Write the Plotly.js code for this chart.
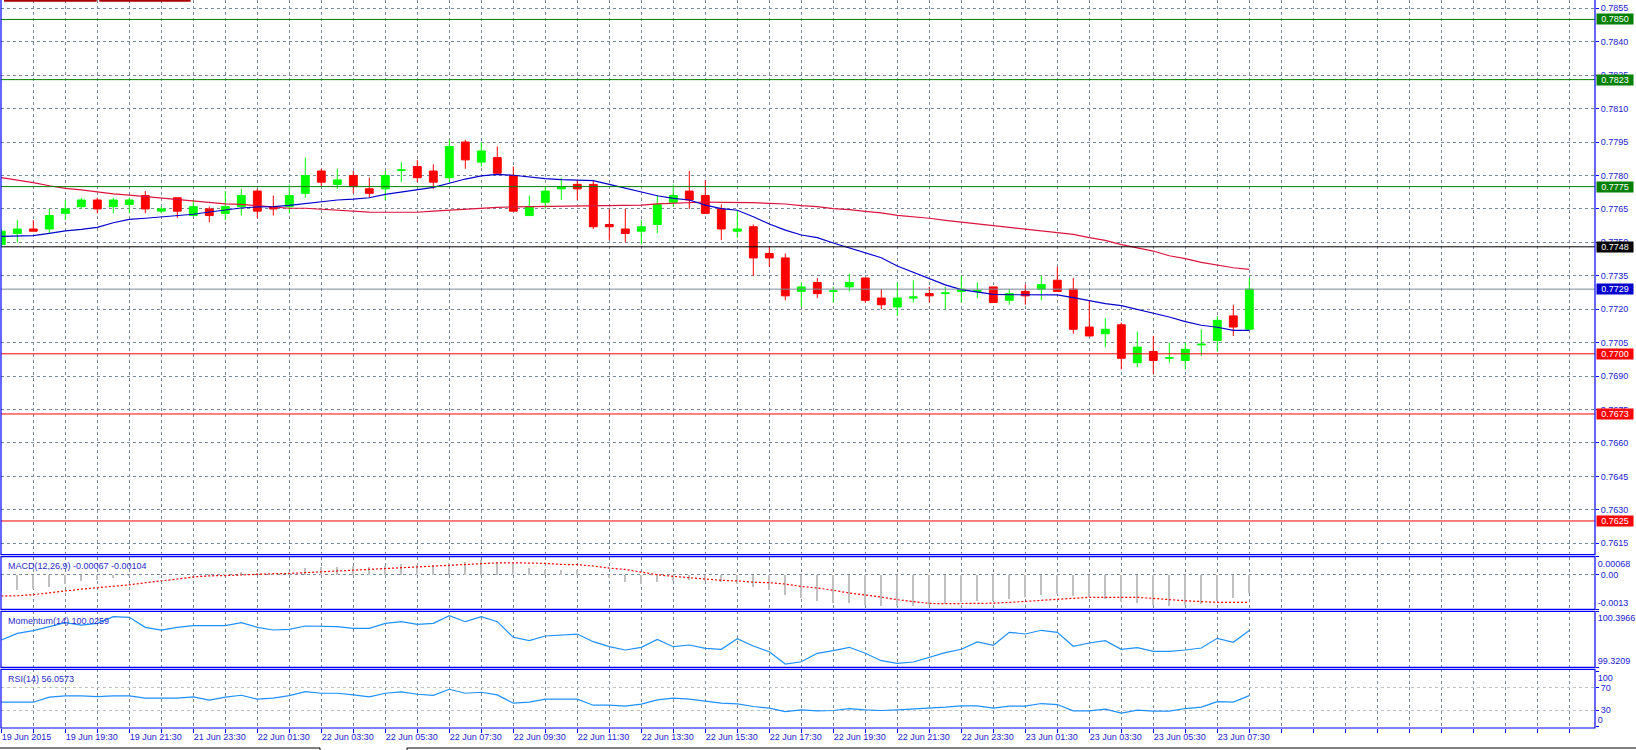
<!DOCTYPE html>
<html>
<head>
<meta charset="utf-8">
<script src="https://cdn.plot.ly/plotly-3.0.1.min.js"></script>
<style>
html,body{margin:0;padding:0;background:#ffffff;}
#chart{width:1636px;height:750px;}
</style>
</head>
<body>
<div id="chart"></div>
<script>
// ---------- DATA (M30 bars) ----------
const openP = [0.7749,0.7754,0.7756,0.7756,0.7763,0.7766,0.7769,0.7766,0.7767,0.7771,
0.7764,0.7770,0.7762,0.7765,0.7763,0.7766,0.7773,0.7766,0.7766,0.7772,
0.7782,0.7776,0.7780,0.7774,0.7774,0.77822,0.7784,0.7782,0.7779,0.7795,
0.7786,0.7788,0.7780,0.7762,0.7768,0.7774,0.7776,0.7776,0.7758,0.7756,
0.7755,0.7758,0.7768,0.7773,0.7771,0.7765,0.7755,0.7757,0.7745,0.7743,
0.7728,0.7732,0.7728,0.7730,0.7734,0.7725,0.7721,0.7725,0.7727,0.7727,
0.7728,0.7728,0.7730,0.7724,0.7728,0.7729,0.7733,0.7729,0.7712,0.7709,
0.7713,0.7696,0.7701,0.7698,0.7697,0.7704,0.7706,0.7717,0.7711];
const highP = [0.7756,0.7760,0.7760,0.7765,0.7769,0.7770,0.7770,0.7770,0.7770,0.7773,
0.7766,0.7770,0.7769,0.7766,0.7773,0.7774,0.7774,0.7771,0.7776,0.7788,
0.7783,0.7783,0.7782,0.7779,0.7782,0.7786,0.7787,0.7785,0.7796,0.7796,
0.7795,0.7793,0.7784,0.7771,0.7775,0.7779,0.7778,0.7778,0.7765,0.7765,
0.7760,0.7771,0.7776,0.7782,0.7778,0.7767,0.7764,0.7758,0.7748,0.7745,
0.7732,0.7734,0.7730,0.7736,0.7734,0.7729,0.7732,0.7733,0.7730,0.7730,
0.7735,0.7732,0.7730,0.7729,0.7731,0.7735,0.7739,0.7734,0.7724,0.7716,
0.7714,0.7710,0.7708,0.7705,0.7705,0.7711,0.7717,0.7722,0.7734];
const lowP = [0.7748,0.7750,0.7755,0.7754,0.7760,0.7765,0.7763,0.7763,0.7763,0.7763,
0.7763,0.7761,0.7762,0.7759,0.7760,0.7762,0.7761,0.7762,0.7763,0.7770,
0.7775,0.7774,0.7772,0.7770,0.7769,0.7777,0.7777,0.7774,0.7777,0.7783,
0.7784,0.7781,0.7764,0.7762,0.7765,0.7769,0.7769,0.7756,0.7751,0.7750,
0.7749,0.7754,0.7766,0.7765,0.7763,0.7751,0.7752,0.7735,0.7739,0.7724,
0.7721,0.7725,0.7723,0.7728,0.7723,0.7720,0.7717,0.7723,0.7723,0.7720,
0.7723,0.7725,0.7723,0.7722,0.7722,0.7724,0.7728,0.7709,0.7708,0.7703,
0.7693,0.7694,0.7691,0.7696,0.7693,0.7699,0.7701,0.7708,0.7711];
const closeP = [0.7755,0.7756,0.7755,0.7762,0.7765,0.7769,0.7765,0.7769,0.7769,0.7765,
0.7765,0.7764,0.7766,0.7762,0.7766,0.7771,0.7764,0.7765,0.7771,0.7780,
0.7777,0.7778,0.7775,0.7772,0.7780,0.77825,0.7779,0.7777,0.7793,0.7787,
0.7791,0.7781,0.7764,0.7766,0.7773,0.7775,0.7774,0.7757,0.7757,0.7754,
0.7757,0.7767,0.7771,0.7769,0.7763,0.7756,0.7756,0.7743,0.7743,0.7726,
0.7730,0.7727,0.77282,0.7732,0.7724,0.7722,0.7725,0.77255,0.7726,0.77273,
0.7729,0.77283,0.7723,0.7727,0.7726,0.7731,0.7728,0.7711,0.7708,0.7711,
0.7698,0.7703,0.7697,0.76983,0.7702,0.77043,0.7715,0.7712,0.7729];
const maFast = [0.77527,0.77527,0.77530,0.77540,0.77551,0.77558,0.77567,0.77588,0.77603,0.77608,
0.77614,0.77618,0.77626,0.77636,0.77645,0.77654,0.77659,0.77660,0.77666,0.77675,
0.77684,0.77690,0.77694,0.77700,0.77715,0.77725,0.77735,0.77747,0.77765,0.77784,
0.77798,0.77805,0.77801,0.77792,0.77786,0.77781,0.77780,0.77777,0.77760,0.77742,
0.77727,0.77709,0.77697,0.77690,0.77667,0.77651,0.77644,0.77615,0.77582,0.77555,
0.77533,0.77521,0.77497,0.77476,0.77455,0.77431,0.77394,0.77365,0.77337,0.77309,
0.77288,0.77277,0.77267,0.77265,0.77265,0.77265,0.77264,0.77252,0.77237,0.77225,
0.77216,0.77200,0.77183,0.77165,0.77144,0.77128,0.77119,0.77105,0.77105];
const maSlow = [0.77790,0.77780,0.77768,0.77754,0.77742,0.77735,0.77726,0.77717,0.77712,0.77705,
0.77699,0.77694,0.77687,0.77679,0.77673,0.77670,0.77664,0.77657,0.77653,0.77653,
0.77648,0.77644,0.77638,0.77636,0.77635,0.77635,0.77635,0.77640,0.77645,0.77650,
0.77653,0.77657,0.77659,0.77660,0.77660,0.77663,0.77664,0.77664,0.77666,0.77666,
0.77667,0.77673,0.77676,0.77681,0.77681,0.77679,0.77679,0.77678,0.77675,0.77672,
0.77665,0.77660,0.77651,0.77647,0.77639,0.77632,0.77621,0.77615,0.77608,0.77599,
0.77590,0.77584,0.77575,0.77567,0.77560,0.77552,0.77545,0.77536,0.77521,0.77509,
0.77490,0.77476,0.77461,0.77440,0.77427,0.77410,0.77398,0.77386,0.77379];
const macdHist = [-0.00060,-0.00056,-0.00054,-0.00046,-0.00035,-0.00024,-0.00019,-0.00013,-0.00004,-0.00001,
0.00000,0.00001,0.00004,0.00003,0.00004,0.00009,0.00006,0.00004,0.00006,0.00024,
0.00029,0.00031,0.00034,0.00031,0.00034,0.00039,0.00038,0.00038,0.00046,0.00050,
0.00057,0.00050,0.00040,0.00024,0.00019,0.00019,0.00018,0.00001,-0.00013,-0.00028,
-0.00033,-0.00028,-0.00023,-0.00020,-0.00023,-0.00026,-0.00033,-0.00046,-0.00058,-0.00076,
-0.00088,-0.00099,-0.00108,-0.00108,-0.00115,-0.00119,-0.00119,-0.00119,-0.00114,-0.00110,
-0.00104,-0.00100,-0.00098,-0.00091,-0.00084,-0.00076,-0.00074,-0.00080,-0.00084,-0.00091,
-0.00103,-0.00107,-0.00114,-0.00118,-0.00114,-0.00110,-0.00099,-0.00088,-0.00067];
const macdSignal = [-0.00080,-0.00079,-0.00075,-0.00069,-0.00061,-0.00054,-0.00049,-0.00043,-0.00038,-0.00030,
-0.00024,-0.00016,-0.00008,-0.00004,-0.00003,0.00000,0.00003,0.00004,0.00005,0.00008,
0.00011,0.00014,0.00018,0.00021,0.00025,0.00028,0.00030,0.00033,0.00036,0.00039,
0.00043,0.00045,0.00045,0.00045,0.00043,0.00039,0.00038,0.00033,0.00025,0.00020,
0.00009,0.00000,-0.00006,-0.00010,-0.00016,-0.00021,-0.00023,-0.00028,-0.00030,-0.00035,
-0.00044,-0.00050,-0.00058,-0.00069,-0.00076,-0.00084,-0.00094,-0.00100,-0.00108,-0.00109,
-0.00109,-0.00109,-0.00107,-0.00104,-0.00100,-0.00098,-0.00094,-0.00089,-0.00085,-0.00085,
-0.00085,-0.00085,-0.00089,-0.00094,-0.00098,-0.00101,-0.00104,-0.00104,-0.00104];
const momentum = [99.845,99.973,100.025,100.101,100.178,100.133,100.165,100.293,100.281,100.089,
100.037,100.089,100.121,100.121,100.121,100.178,100.089,100.037,100.050,100.114,
100.114,100.101,100.069,100.069,100.165,100.197,100.146,100.165,100.313,100.197,
100.293,100.197,99.897,99.832,99.922,99.941,99.960,99.813,99.717,99.653,
99.704,99.858,99.717,99.749,99.686,99.667,99.870,99.730,99.621,99.384,
99.428,99.590,99.640,99.705,99.590,99.448,99.398,99.423,99.513,99.602,
99.667,99.807,99.744,99.993,99.961,100.032,99.993,99.724,99.788,99.832,
99.667,99.698,99.628,99.628,99.653,99.692,99.878,99.801,100.026];
const rsi = [44.3,44.3,44.3,53.3,55.7,55.7,54.5,55.7,55.7,51.5,
51.5,51.5,53.9,47.9,53.3,56.8,49.7,51.5,56.2,63.4,
60.4,60.4,57.4,53.9,60.4,62.8,58.6,56.8,67.6,60.4,
62.2,57.4,42.5,44.3,49.7,49.7,49.7,38.9,38.9,37.1,
40.7,48.5,51.5,49.7,45.5,42.5,41.3,36.5,33.5,27.5,
30.5,28.7,29.3,32.9,30.5,29.3,30.5,31.7,33.5,35.3,
37.7,37.7,33.5,37.1,37.1,41.9,40.1,28.7,28.7,31.7,
24.6,30.0,28.2,28.2,32.9,35.4,45.4,44.4,56.06];
const timeLabels = ['19 Jun 2015','19 Jun 19:30','19 Jun 21:30','21 Jun 23:30','22 Jun 01:30',
'22 Jun 03:30','22 Jun 05:30','22 Jun 07:30','22 Jun 09:30','22 Jun 11:30','22 Jun 13:30',
'22 Jun 15:30','22 Jun 17:30','22 Jun 19:30','22 Jun 21:30','22 Jun 23:30','23 Jun 01:30',
'23 Jun 03:30','23 Jun 05:30','23 Jun 07:30'];
const levelPrices = [0.7850, 0.7823, 0.7775, 0.7748, 0.7729, 0.7700, 0.7673, 0.7625];
const macdTitle = 'MACD(12,26,9) -0.00067 -0.00104';
const momTitle = 'Momentum(14) 100.0259';
const rsiTitle = 'RSI(14) 56.0573';
const macdScale = [-0.0013, 0.00068];
const momScale = [99.3209, 100.3966];
const rsiScale = [0, 100];
const rsiLevels = [30, 70];

// ---------- STYLE / LAYOUT ----------
const levelColors = ['#008000','#008000','#008000','#000000','#778899','#ff0000','#ff0000','#ff0000'];
const levelBoxColors = ['#008000','#008000','#008000','#000000','#0000cc','#ff0000','#ff0000','#ff0000'];
const BLUE = '#0000ff';
const TXT = '#2222d2';
const FONT = 'Liberation Sans, Arial, sans-serif';
const GRID = '#778899';
const H = 728, W = 1594; // plot area in px
const dom = (top, bot) => [(H - bot) / H, (H - top) / H];
const dMain = [dom(0, 554.7)[0], 1];
const dMacd = dom(556.7, 609.3);
const dMom = dom(611.3, 667.3);
const dRsi = [0, dom(669.3, 728)[1]];

const idx = closeP.map((_, i) => i);
const barsPerLabel = 4;
const tickvals = [], ticktext = [];
for (let v = 0; v <= 98; v += 2) {
  tickvals.push(v);
  const k = v / barsPerLabel;
  ticktext.push(v % barsPerLabel === 0 && k < timeLabels.length ? timeLabels[k] : '');
}
const priceTicks = [];
for (let k = 0; k <= 16; k++) priceTicks.push(+(0.7615 + 0.0015 * k).toFixed(4));

const macdRange = [macdScale[0] - 0.000001, macdScale[1] + 0.000001];
const momRange = [momScale[0] - 0.0001, momScale[1] + 0.0001];
const rsiRange = [-2.2, 103.6];

const traces = [
  {type:'candlestick', x: idx, open: openP, high: highP, low: lowP, close: closeP,
   xaxis:'x', yaxis:'y', whiskerwidth: 0, hoverinfo:'skip',
   increasing:{line:{color:'#00ff00', width:1}, fillcolor:'#00ff00'},
   decreasing:{line:{color:'#ff0000', width:1}, fillcolor:'#ff0000'}},
  {type:'scatter', mode:'lines', x: idx, y: maSlow, xaxis:'x', yaxis:'y',
   line:{color:'#dc143c', width:1.2}, hoverinfo:'skip'},
  {type:'scatter', mode:'lines', x: idx, y: maFast, xaxis:'x', yaxis:'y',
   line:{color:'#0000cd', width:1.2}, hoverinfo:'skip'},
  {type:'bar', x: idx, y: macdHist, xaxis:'x', yaxis:'y2', width: 0.14,
   marker:{color:'#c0c0c0', line:{width:0}}, hoverinfo:'skip'},
  {type:'scatter', mode:'lines', x: idx, y: macdSignal, xaxis:'x', yaxis:'y2',
   line:{color:'#ff0000', width:1.2, dash:'2px,2px'}, hoverinfo:'skip'},
  {type:'scatter', mode:'lines', x: idx, y: momentum, xaxis:'x', yaxis:'y5',
   line:{color:'#1e90ff', width:1.2}, hoverinfo:'skip'},
  {type:'scatter', mode:'lines', x: idx, y: rsi, xaxis:'x', yaxis:'y7',
   line:{color:'#1e90ff', width:1.2}, hoverinfo:'skip'}
];
// empty traces so that the overlaid label axes get a subplot of their own
['y3','y4','y6','y8','y9'].forEach(a => traces.push({type:'scatter', mode:'lines', x:[], y:[],
  xaxis:'x', yaxis:a, hoverinfo:'skip', showlegend:false}));

const tickFont = {family: FONT, size: 9, color: TXT};
const yBase = {side:'right', anchor:'x', ticks:'outside', ticklen:3, tickcolor:BLUE,
  tickfont:tickFont, showline:false, zeroline:false, fixedrange:true, autorange:false};

const layout = {
  width: 1636, height: 750,
  margin: {l:1, r:41, t:0, b:22},
  paper_bgcolor:'#ffffff', plot_bgcolor:'#ffffff',
  showlegend:false, bargap:0,
  font:{family: FONT, size:9, color: TXT},
  xaxis: {type:'linear', domain:[0,1], range:[-0.019, 99.606], anchor:'y7',
    tickmode:'array', tickvals: tickvals, ticktext: ticktext,
    ticks:'outside', ticklen:4, tickcolor:BLUE, tickfont:tickFont,
    ticklabelposition:'outside right',
    showgrid:true, gridcolor:GRID, gridwidth:1, griddash:'3px,3px',
    zeroline:false, showline:false, rangeslider:{visible:false}, fixedrange:true},
  yaxis: Object.assign({}, yBase, {domain:dMain, range:[0.760987, 0.785872],
    tickmode:'array', tickvals: priceTicks, tickformat:'.4f',
    showgrid:true, gridcolor:GRID, gridwidth:1, griddash:'3px,3px'}),
  yaxis2: Object.assign({}, yBase, {domain:dMacd, range:macdRange,
    tickmode:'array', tickvals:[0], ticktext:['0.00'],
    showgrid:true, gridcolor:GRID, gridwidth:1, griddash:'3px,3px'}),
  yaxis3: Object.assign({}, yBase, {overlaying:'y2', range:macdRange,
    tickmode:'array', tickvals:[macdScale[1]], ticktext:[macdScale[1].toFixed(5)],
    ticklabelposition:'outside bottom', showgrid:false}),
  yaxis4: Object.assign({}, yBase, {overlaying:'y2', range:macdRange,
    tickmode:'array', tickvals:[macdScale[0]], ticktext:[macdScale[0].toFixed(4)],
    ticklabelposition:'outside top', showgrid:false}),
  yaxis5: Object.assign({}, yBase, {domain:dMom, range:momRange,
    tickmode:'array', tickvals:[momScale[1]], ticktext:[momScale[1].toFixed(4)],
    ticklabelposition:'outside bottom', showgrid:false}),
  yaxis6: Object.assign({}, yBase, {overlaying:'y5', range:momRange,
    tickmode:'array', tickvals:[momScale[0]], ticktext:[momScale[0].toFixed(4)],
    ticklabelposition:'outside top', showgrid:false}),
  yaxis7: Object.assign({}, yBase, {domain:dRsi, range:rsiRange,
    tickmode:'array', tickvals: rsiLevels, ticktext: rsiLevels.map(String),
    showgrid:true, gridcolor:'#c0c0c0', gridwidth:1, griddash:'3px,3px'}),
  yaxis8: Object.assign({}, yBase, {overlaying:'y7', range:rsiRange,
    tickmode:'array', tickvals:[rsiScale[1]], ticktext:[String(rsiScale[1])],
    ticklabelposition:'outside bottom', showgrid:false}),
  yaxis9: Object.assign({}, yBase, {overlaying:'y7', range:rsiRange,
    tickmode:'array', tickvals:[rsiScale[0]], ticktext:[String(rsiScale[0])],
    ticklabelposition:'outside top', showgrid:false}),
  shapes: [],
  annotations: []
};

// horizontal level lines (drawn through the price axis)
levelPrices.forEach((p, k) => {
  layout.shapes.push({type:'line', xref:'paper', x0:0, x1:1, yref:'y', y0:p, y1:p,
    line:{color: levelColors[k], width:1}, layer:'above'});
  layout.annotations.push({xref:'paper', x:1, xanchor:'left', xshift:0.5, yref:'y', y:p, yanchor:'middle',
    text: p.toFixed(4), showarrow:false, bgcolor: levelBoxColors[k], borderpad:0.5,
    width:35, height:9, align:'center', font:{family:FONT, size:9, color:'#ffffff'}});
});

// panel frames
[[dMain[0], 1.02], dMacd, dMom, dRsi].forEach(d => {
  layout.shapes.push({type:'rect', xref:'paper', yref:'paper', x0:0, x1:1, y0:d[0], y1:d[1],
    line:{color:BLUE, width:1.2}, fillcolor:'rgba(0,0,0,0)', layer:'above'});
});

// small dark-red object labels at the very top left
layout.shapes.push({type:'rect', xref:'paper', yref:'paper', x0:3/W, x1:95.7/W, y0:1-1.7/H, y1:1.02,
  fillcolor:'#a80000', line:{width:0}, layer:'above'});
layout.shapes.push({type:'rect', xref:'paper', yref:'paper', x0:98.3/W, x1:189.7/W, y0:1-1.7/H, y1:1.02,
  fillcolor:'#a80000', line:{width:0}, layer:'above'});
// tab bar edges at the bottom
layout.shapes.push({type:'rect', xref:'paper', yref:'paper', x0:-2/W, x1:319/W, y0:-30/H, y1:-20/H,
  fillcolor:'#ffffff', line:{color:'#000000', width:1}});
layout.shapes.push({type:'rect', xref:'paper', yref:'paper', x0:406/W, x1:1650/W, y0:-30/H, y1:-20/H,
  fillcolor:'#ffffff', line:{color:'#000000', width:1}});

// indicator window titles
[[macdTitle, 565.7], [momTitle, 620.7], [rsiTitle, 678.7]].forEach(t => {
  layout.annotations.push({xref:'paper', x:0, xanchor:'left', xshift:5, yref:'paper', y:(H - t[1]) / H,
    yanchor:'middle', text:t[0], showarrow:false, font:{family:FONT, size:9, color:'#2a2ac8'}});
});

Plotly.newPlot('chart', traces, layout, {staticPlot:true, displayModeBar:false});
</script>
</body>
</html>
